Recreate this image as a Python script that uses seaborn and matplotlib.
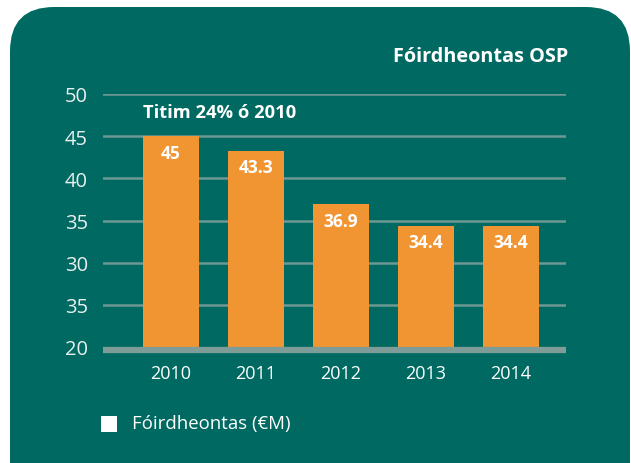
import matplotlib
matplotlib.use("Agg")
import matplotlib.pyplot as plt
from matplotlib.patches import FancyBboxPatch, Rectangle
import seaborn as sns
import pandas as pd

years = ["2010", "2011", "2012", "2013", "2014"]
values = [45, 43.3, 36.9, 34.4, 34.4]
value_labels = ["45", "43.3", "36.9", "34.4", "34.4"]
ytick_vals = [20, 25, 30, 35, 40, 45, 50]
ytick_labels = ["20", "35", "30", "35", "40", "45", "50"]
title = "Fóirdheontas OSP"
note = "Titim 24% ó 2010"
legend_label = "Fóirdheontas (€M)"

TEAL = "#006A62"
ORANGE = "#F19533"
GRID = "#6E9893"
AXIS = "#7E9C98"
FONT = ["Open Sans", "DejaVu Sans"]

sns.set_theme(style="white")
plt.rcParams["font.family"] = FONT

W, H = 631, 464
fig = plt.figure(figsize=(W / 100, H / 100), dpi=100)
fig.patch.set_facecolor("white")

# rounded teal panel
panel = FancyBboxPatch((10 / W, -60 / H), 620 / W, (H - 8 + 60) / H,
                       boxstyle="round,pad=0,rounding_size=0.07",
                       transform=fig.transFigure, facecolor=TEAL,
                       edgecolor="none", mutation_aspect=W / H, zorder=-10)
fig.patches.append(panel)

ax = fig.add_axes([103 / W, 1 - 348 / H, (566 - 103) / W, (348 - 95) / H])
ax.set_facecolor("none")
ax.set_zorder(5)

df = pd.DataFrame({"year": years, "value": values})
sns.barplot(data=df, x="year", y="value", color=ORANGE, saturation=1,
            width=0.66, ax=ax, zorder=3, edgecolor="none", linewidth=0)

ax.set_xlim(-0.8, 4.65)
ax.set_ylim(20, 50)
ax.set_yticks(ytick_vals)
ax.set_yticklabels(ytick_labels)
for y in ytick_vals[1:]:
    ax.axhline(y, color=GRID, linewidth=1.8, zorder=1)
ax.axhline(19.7, color=AXIS, linewidth=4.5, zorder=4, clip_on=False,
           solid_capstyle="butt")

for s in ax.spines.values():
    s.set_visible(False)
ax.tick_params(axis="y", length=0, pad=11, labelsize=14.5, labelcolor="#E8F0EF")
ax.tick_params(axis="x", length=0, pad=12, labelsize=13, labelcolor="white")
ax.set_xlabel("")
ax.set_ylabel("")

for i, (v, t) in enumerate(zip(values, value_labels)):
    ax.annotate(t, xy=(i, v), xytext=(0, -12), textcoords="offset points",
                ha="center", va="center", color="white", fontsize=12.5,
                fontweight="bold", zorder=5)

fig.text(568 / W, 1 - 57 / H, title, ha="right", va="center", color="white",
         fontsize=14.3, fontweight="bold")
fig.text(143 / W, 1 - 113 / H, note, ha="left", va="center", color="white",
         fontsize=13.2, fontweight="bold")

fig.patches.append(Rectangle((101 / W, 1 - 433 / H), 16 / W, 16 / H,
                             transform=fig.transFigure, facecolor="white",
                             edgecolor="none", zorder=2))
fig.text(132 / W, 1 - 424 / H, legend_label, ha="left", va="center",
         color="white", fontsize=13.4)

fig.savefig("out.png", dpi=100, facecolor=fig.get_facecolor())
